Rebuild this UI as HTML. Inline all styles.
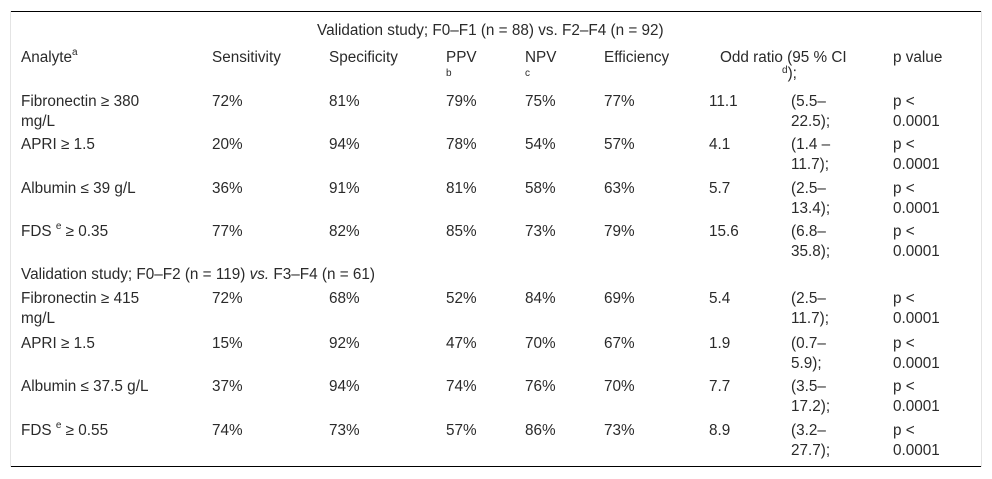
<!DOCTYPE html>
<html><head><meta charset="utf-8"><style>
body{margin:0;background:#fff;width:992px;height:479px;position:relative;overflow:hidden;font-family:"Liberation Sans",Arial,sans-serif;font-size:15.3px;color:#2a2a2a;}
.c{position:absolute;line-height:19.5px;white-space:nowrap;}
sup{font-size:10px;vertical-align:top;position:relative;top:-5px;}
.sub{position:absolute;font-size:10px;}
.line{position:absolute;background:#000;height:1px;left:10px;width:971px;}
.vl{position:absolute;top:11px;height:456px;width:1px;background:#e4e4e4;}
</style></head><body>
<div class="line" style="top:11px"></div>
<div class="line" style="top:466px"></div>
<div class="vl" style="left:10px"></div>
<div class="vl" style="left:981px"></div>
<div class="c" style="left:317px;top:21px">Validation study; F0–F1 (n = 88) vs. F2–F4 (n = 92)</div>
<div class="c" style="left:21px;top:48px">Analyte<sup>a</sup></div>
<div class="c" style="left:212px;top:48px">Sensitivity</div>
<div class="c" style="left:329px;top:48px">Specificity</div>
<div class="c" style="left:446px;top:48px">PPV<div class="sub" style="left:0;top:16px">b</div></div>
<div class="c" style="left:525px;top:48px">NPV<div class="sub" style="left:0;top:16px">c</div></div>
<div class="c" style="left:604px;top:48px">Efficiency</div>
<div class="c" style="left:720px;top:48px">Odd ratio (95 % CI</div>
<div class="c" style="left:782px;top:64px"><sup style="top:-3px">d</sup>);</div>
<div class="c" style="left:893px;top:48px">p value</div>
<div class="c" style="left:21px;top:265px">Validation study; F0–F2 (n = 119) <i>vs.</i> F3–F4 (n = 61)</div>
<div id="rows"></div>
<script>
const analytes=[["Fibronectin ≥ 380","mg/L"],["APRI ≥ 1.5"],["Albumin ≤ 39 g/L"],["FDS <sup>e</sup> ≥ 0.35"],["Fibronectin ≥ 415","mg/L"],["APRI ≥ 1.5"],["Albumin ≤ 37.5 g/L"],["FDS <sup>e</sup> ≥ 0.55"]];
const sens=["72%","20%","36%","77%","72%","15%","37%","74%"];
const spec=["81%","94%","91%","82%","68%","92%","94%","73%"];
const ppv=["79%","78%","81%","85%","52%","47%","74%","57%"];
const npv=["75%","54%","58%","73%","84%","70%","76%","86%"];
const eff=["77%","57%","63%","79%","69%","67%","70%","73%"];
const orv=["11.1","4.1","5.7","15.6","5.4","1.9","7.7","8.9"];
const ci=[["(5.5–","22.5);"],["(1.4 –","11.7);"],["(2.5–","13.4);"],["(6.8–","35.8);"],["(2.5–","11.7);"],["(0.7–","5.9);"],["(3.5–","17.2);"],["(3.2–","27.7);"]];
const tops=[92,135,179,222,289,334,377,421];
const host=document.getElementById('rows');
function cell(x,y,html,name){const d=document.createElement('div');d.className='c';d.style.left=x+'px';d.style.top=y+'px';d.innerHTML=html;


host.appendChild(d);}
for(let i=0;i<8;i++){const y=tops[i];
cell(21,y,analytes[i].join('<br>'),'analyte-cell');
cell(212,y,sens[i],'sensitivity-cell');
cell(329,y,spec[i],'specificity-cell');
cell(446,y,ppv[i],'ppv-cell');
cell(525,y,npv[i],'npv-cell');
cell(604,y,eff[i],'efficiency-cell');
cell(709,y,orv[i],'odd-ratio-cell');
cell(791,y,ci[i].join('<br>'),'ci-cell');
cell(893,y,'p &lt;<br>0.0001','p-value-cell');}
</script>
</body></html>
